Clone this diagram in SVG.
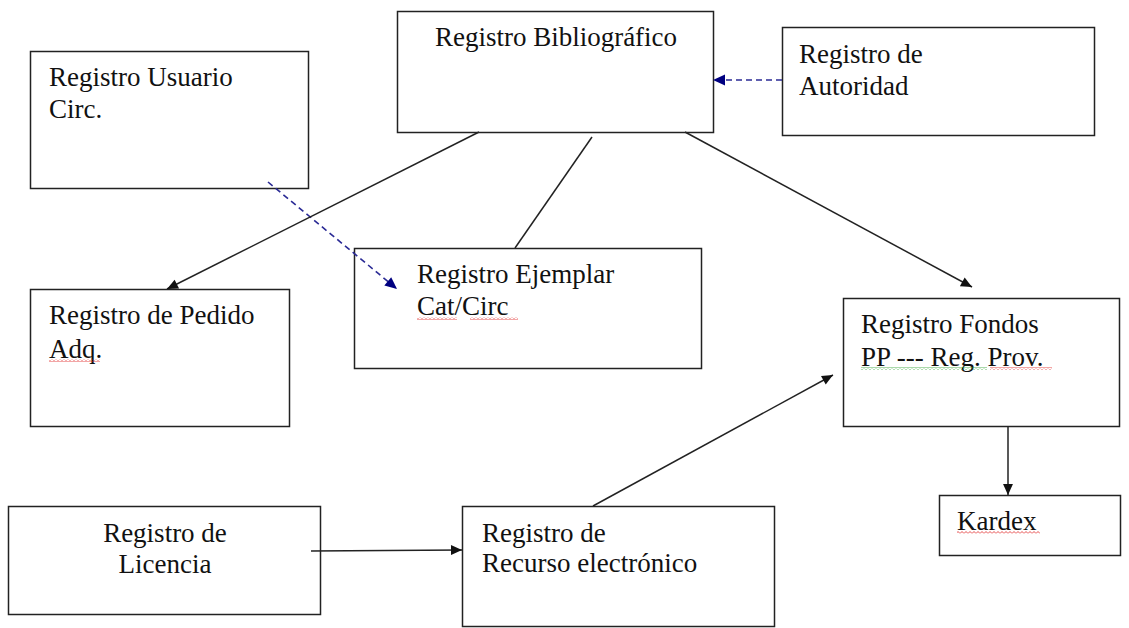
<svg xmlns="http://www.w3.org/2000/svg" width="1129" height="628" viewBox="0 0 1129 628">
  <style>
    .box { fill: #ffffff; stroke: #222222; stroke-width: 1.5; }
    .lbl { font-family: "Liberation Serif", "Times New Roman", serif; font-size: 27px; fill: #111111; }
    .mid { text-anchor: middle; }
    .solid { stroke: #222222; stroke-width: 1.5; fill: none; }
    .dash { stroke: #2a2a95; stroke-width: 1.6; stroke-dasharray: 6 4; fill: none; }
  </style>
  <defs>
    <marker id="ah" viewBox="0 0 10 10" refX="10" refY="5" markerWidth="12" markerHeight="11" markerUnits="userSpaceOnUse" orient="auto">
      <path d="M0,0.5 L10,5 L0,9.5 Z" fill="#111111"/>
    </marker>
    <marker id="ahb" viewBox="0 0 10 10" refX="10" refY="5" markerWidth="13" markerHeight="12" markerUnits="userSpaceOnUse" orient="auto">
      <path d="M0,0.5 L10,5 L0,9.5 Z" fill="#000080"/>
    </marker>
    <pattern id="wavyRed" width="4" height="3" patternUnits="userSpaceOnUse">
      <path d="M0,2.5 L2,0.5 L4,2.5" fill="none" stroke="#e02020" stroke-width="0.8"/>
    </pattern>
    <pattern id="wavyGreen" width="4" height="3" patternUnits="userSpaceOnUse">
      <path d="M0,2.5 L2,0.5 L4,2.5" fill="none" stroke="#2aa02a" stroke-width="0.8"/>
    </pattern>
  </defs>

  <g id="bibliografico">
    <rect class="box" x="397.5" y="11.5" width="316" height="121"/>
    <text class="lbl mid" x="556" y="46">Registro Bibliográfico</text>
  </g>

  <g id="autoridad">
    <rect class="box" x="782.5" y="27.5" width="312" height="108"/>
    <text class="lbl" x="799" y="63">Registro de</text>
    <text class="lbl" x="799" y="95">Autoridad</text>
  </g>

  <g id="usuario">
    <rect class="box" x="30.5" y="51.5" width="278" height="137"/>
    <text class="lbl" x="49" y="86">Registro Usuario</text>
    <text class="lbl" x="49" y="118">Circ.</text>
  </g>

  <g id="pedido">
    <rect class="box" x="30.5" y="289.5" width="259" height="137"/>
    <text class="lbl" x="49" y="324">Registro de Pedido</text>
    <text class="lbl" x="49" y="358">Adq.</text>
    <rect x="49" y="359" width="51" height="3" fill="url(#wavyRed)"/>
  </g>

  <g id="ejemplar">
    <rect class="box" x="354.5" y="248.5" width="347" height="120"/>
    <text class="lbl" x="417" y="283">Registro Ejemplar</text>
    <text class="lbl" x="417" y="315">Cat/Circ</text>
    <rect x="417" y="317" width="40" height="3" fill="url(#wavyRed)"/>
    <rect x="470" y="317" width="48" height="3" fill="url(#wavyRed)"/>
  </g>

  <g id="fondos">
    <rect class="box" x="843.5" y="298.5" width="276" height="128"/>
    <text class="lbl" x="861" y="333">Registro Fondos</text>
    <text class="lbl" x="861" y="366">PP --- Reg. Prov.</text>
    <rect x="861" y="367" width="126" height="3" fill="url(#wavyGreen)"/>
    <rect x="990" y="367" width="62" height="3" fill="url(#wavyRed)"/>
  </g>

  <g id="kardex">
    <rect class="box" x="939.5" y="495.5" width="181" height="60"/>
    <text class="lbl" x="957" y="530">Kardex</text>
    <rect x="957" y="531" width="83" height="3" fill="url(#wavyRed)"/>
  </g>

  <g id="licencia">
    <rect class="box" x="8.5" y="506.5" width="312" height="108"/>
    <text class="lbl mid" x="165" y="542">Registro de</text>
    <text class="lbl mid" x="165" y="573">Licencia</text>
  </g>

  <g id="recurso">
    <rect class="box" x="462.5" y="506.5" width="312" height="120"/>
    <text class="lbl" x="482" y="542">Registro de</text>
    <text class="lbl" x="482" y="572">Recurso electrónico</text>
  </g>

  <g id="connectors">
    <line class="dash" x1="782" y1="80" x2="713" y2="80" marker-end="url(#ahb)"/>
    <line class="dash" x1="268" y1="182" x2="397" y2="289" marker-end="url(#ahb)"/>
    <line class="solid" x1="479" y1="132" x2="167" y2="289" marker-end="url(#ah)"/>
    <line class="solid" x1="592" y1="137" x2="515" y2="248"/>
    <line class="solid" x1="685" y1="132" x2="972" y2="287" marker-end="url(#ah)"/>
    <line class="solid" x1="593" y1="506" x2="833" y2="375" marker-end="url(#ah)"/>
    <line class="solid" x1="1008" y1="426" x2="1008" y2="495" marker-end="url(#ah)"/>
    <line class="solid" x1="311" y1="551" x2="462" y2="550" marker-end="url(#ah)"/>
  </g>
</svg>
